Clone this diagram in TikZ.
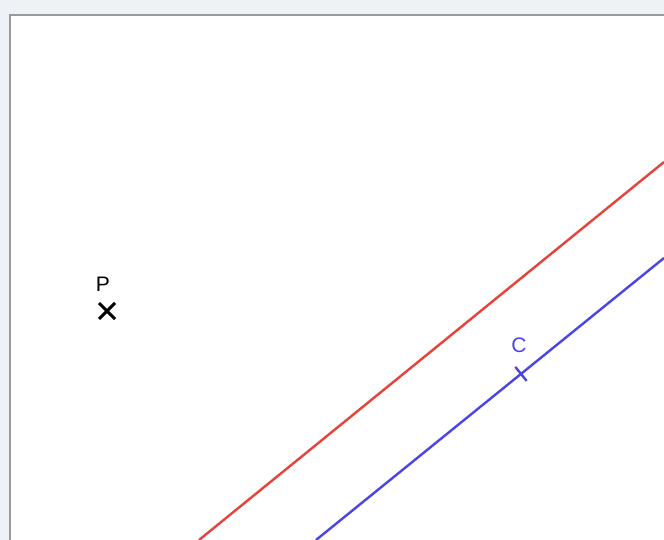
\documentclass[tikz,border=0pt]{standalone}
\usepackage{fontspec}
\setmainfont{Liberation Sans}
\usetikzlibrary{calc,shapes.misc}
\definecolor{lnred}{HTML}{E8423A}
\definecolor{lnblue}{HTML}{4B45E8}
\definecolor{frameline}{HTML}{9A9A9A}
\definecolor{chrome}{HTML}{EEF2F7}
\begin{document}
\begin{tikzpicture}[
  x=1pt, y=-1pt,
  redline/.style={draw=lnred, line width=2.4pt},
  blueline/.style={draw=lnblue, line width=2.4pt},
  crossmark/.style={cross out, draw, minimum size=13pt, inner sep=0pt, line width=3pt},
  lbl/.style={font=\fontsize{21}{21}\selectfont, inner sep=0pt}
]
  \useasboundingbox (0,0) rectangle (664,540);
  \fill[chrome] (0,0) rectangle (664,540);
  \fill[white] (10,15) rectangle (664,540);
  \draw[frameline, line width=1.2pt] (10,540) -- (10,15) -- (664,15);

  % the two parallel lines
  \coordinate (r1) at (199,540);
  \coordinate (r2) at (664,162);
  \coordinate (b1) at (316,540);
  \coordinate (b2) at (664,258);
  \draw[redline] (r1) -- (r2);
  \draw[blueline] (b1) -- (b2) coordinate[pos=0.589] (C);
  \draw[blueline] ($(C)!9pt!90:(b2)$) -- ($(C)!9pt!-90:(b2)$);
  \node[lbl, text=lnblue] (Clbl) at (519,345) {C};

  % point P
  \node[crossmark] (P) at (107,311) {};
  \node[lbl] (Plbl) at (103,284) {P};
\end{tikzpicture}
\end{document}
